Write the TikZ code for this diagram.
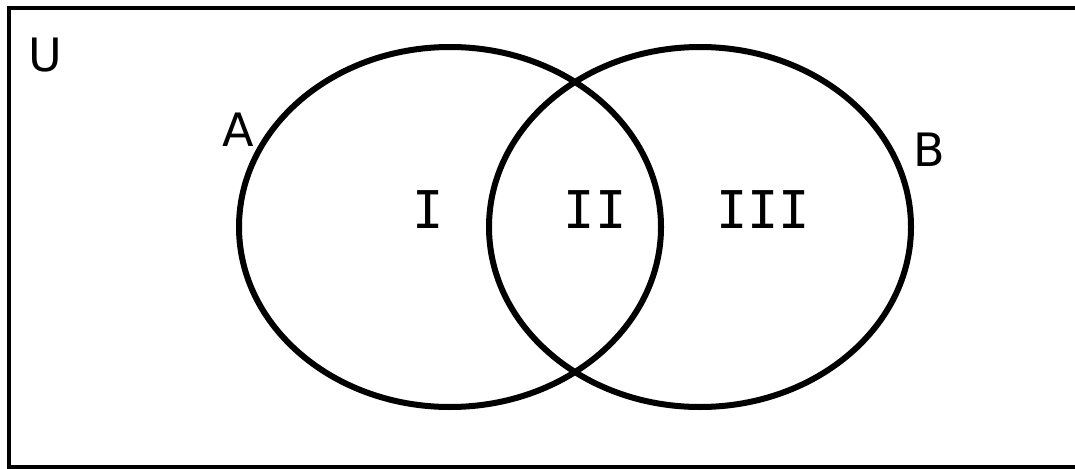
\documentclass[tikz,border=0pt]{standalone}
\usepackage{fontspec}
\setmainfont{DejaVu Sans}
\newfontfamily\numfont{DejaVu Sans Mono}
\begin{document}
\begin{tikzpicture}[
    x=1pt, y=-1pt,
    universe/.style={draw=black, line width=4.5pt},
    setline/.style={draw=black, line width=6pt},
    setname/.style={font=\fontsize{46}{52}\selectfont, inner sep=0pt, text=black},
    region/.style={font=\numfont\fontsize{52}{58}\selectfont, inner sep=0pt, text=black},
]
\useasboundingbox (0,0) rectangle (1075,468);

% ---------------------------------------------------------------- universe
\draw [universe] (9,8) rectangle (1110,467);
\node (u) [setname] at (45,55) {U};

% ---------------------------------------------------------------- sets
\draw [setline] (450,227) ellipse [x radius=211, y radius=180];
\draw [setline] (700,227) ellipse [x radius=211, y radius=180];

\node (a) [setname] at (238,130) {A};
\node (b) [setname] at (929,150) {B};

% ---------------------------------------------------------------- regions
\node (r1)   [region] at (428,210) {I};
\node (r2)   [region] at (595,210) {II};
\node (r3)   [region] at (763,210) {III};

\end{tikzpicture}
\end{document}
